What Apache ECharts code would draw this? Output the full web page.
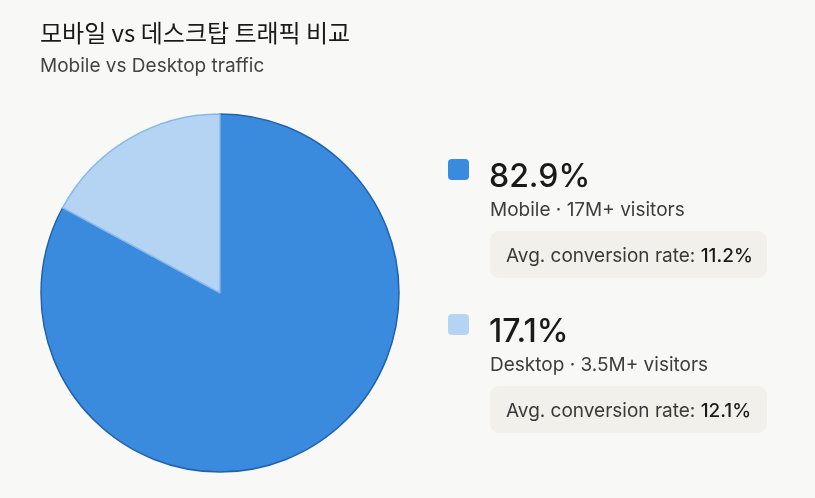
<!DOCTYPE html>
<html><head><meta charset="utf-8">
<script src="https://cdn.jsdelivr.net/npm/echarts@6/dist/echarts.min.js"></script>
<style>html,body{margin:0;padding:0;background:#f8f8f6;}#c{width:815px;height:498px;}</style>
</head><body><div id="c"></div>
<script>
const titleText = '모바일 vs 데스크탑 트래픽 비교';
const subtitleText = 'Mobile vs Desktop traffic';
const categories = ['Mobile', 'Desktop'];
const shares = [82.9, 17.1];
const visitors = ['17M+', '3.5M+'];
const conversion = ['11.2%', '12.1%'];
const colors = ['#3a8ade', '#b5d4f4'];
const borders = ['#1f63b0', '#86b8ec'];

const FONT = 'Inter, "Noto Sans", sans-serif';
const chart = echarts.init(document.getElementById('c'));
const graphics = [];
const rowTop = [159, 314];
categories.forEach((c, i) => {
  const y = rowTop[i];
  graphics.push({type:'rect', left:448, top:y, shape:{width:21,height:21,r:4}, style:{fill:colors[i]}});
  graphics.push({type:'text', left:489, top:y+2, style:{text:shares[i].toFixed(1)+'%', font:'500 32px '+FONT, fill:'#1a1a1a'}});
  graphics.push({type:'text', left:490, top:y+42, style:{text:c+' · '+visitors[i]+' visitors', font:'400 19px '+FONT, fill:'#3d3d3d'}});
  graphics.push({type:'rect', left:490, top:y+72, shape:{width:277,height:47,r:9}, style:{fill:'#f1f0ea'}});
  graphics.push({type:'text', left:506, top:y+88, style:{rich:{a:{font:'400 19px '+FONT, fill:'#3a3a3a'}, b:{font:'500 19px '+FONT, fill:'#1a1a1a'}}, text:'{a|Avg. conversion rate: }{b|'+conversion[i]+'}'}});
});
chart.setOption({
  backgroundColor:'#f8f8f6',
  title:{text:titleText, subtext:subtitleText, left:35, top:16,
    textStyle:{fontFamily:'"Noto Sans CJK KR", '+FONT, fontSize:24, fontWeight:400, color:'#1a1a1a'},
    subtextStyle:{fontFamily:FONT, fontSize:19, color:'#444'}, itemGap:12},
  series:[{type:'pie', center:[220,293], radius:179, startAngle:90, clockwise:true,
    label:{show:false}, labelLine:{show:false}, silent:true, animation:false,
    data: categories.map((c,i)=>({name:c, value:shares[i], itemStyle:{color:colors[i], borderColor:borders[i], borderWidth:1.5}}))}],
  graphic: graphics
});
</script></body></html>
